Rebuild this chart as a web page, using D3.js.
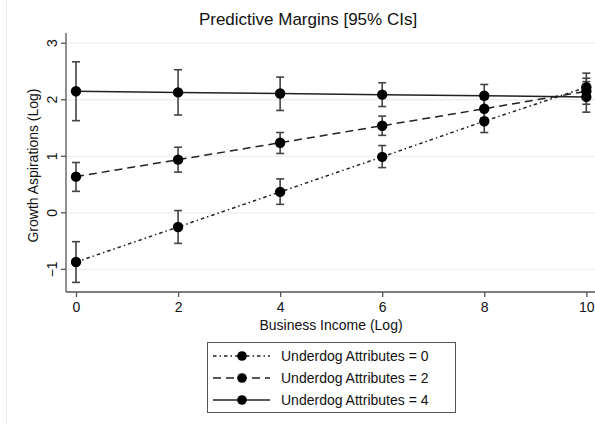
<!DOCTYPE html>
<html>
<head>
<meta charset="utf-8">
<script src="https://d3js.org/d3.v7.min.js"></script>
<style>
  body { margin: 0; background: #fff; }
  text { font-family: "Liberation Sans", Arial, sans-serif; fill: #111; }
</style>
</head>
<body>
<svg width="595" height="424"></svg>
<script>
const incomes = [0, 2, 4, 6, 8, 10];
const yTicks = [-1, 0, 1, 2, 3];
const xTicks = [0, 2, 4, 6, 8, 10];

// margins by underdog attributes level
const attr0 = [-0.87, -0.25, 0.37, 0.99, 1.62, 2.22];
const attr0Lo = [-1.23, -0.54, 0.15, 0.80, 1.42, 2.02];
const attr0Hi = [-0.51, 0.04, 0.60, 1.19, 1.82, 2.47];

const attr2 = [0.64, 0.94, 1.24, 1.54, 1.84, 2.15];
const attr2Lo = [0.38, 0.72, 1.05, 1.37, 1.68, 1.92];
const attr2Hi = [0.89, 1.16, 1.42, 1.71, 2.01, 2.38];

const attr4 = [2.15, 2.13, 2.11, 2.09, 2.07, 2.05];
const attr4Lo = [1.63, 1.73, 1.81, 1.88, 1.85, 1.78];
const attr4Hi = [2.67, 2.53, 2.40, 2.30, 2.27, 2.32];

const seriesNames = ["Underdog Attributes = 0", "Underdog Attributes = 2", "Underdog Attributes = 4"];

const series = [
  { name: seriesNames[0], y: attr0, lo: attr0Lo, hi: attr0Hi, dash: "3.5,3,1.5,3" },
  { name: seriesNames[1], y: attr2, lo: attr2Lo, hi: attr2Hi, dash: "8,5" },
  { name: seriesNames[2], y: attr4, lo: attr4Lo, hi: attr4Hi, dash: null }
];

const svg = d3.select("svg");
const plot = { left: 66, right: 595, top: 33, bottom: 292 };

const x = d3.scaleLinear().domain([-0.196, 10.17]).range([plot.left, plot.right]);
const y = d3.scaleLinear().domain([-1.4, 3.18]).range([plot.bottom, plot.top]);

// faint outer frame edge
svg.append("line")
  .attr("x1", 6.5).attr("x2", 6.5).attr("y1", 0).attr("y2", 424)
  .attr("stroke", "#eceff1").attr("stroke-width", 1);

// grid
svg.append("g").selectAll("line")
  .data(yTicks)
  .enter().append("line")
  .attr("x1", plot.left).attr("x2", plot.right)
  .attr("y1", d => y(d)).attr("y2", d => y(d))
  .attr("stroke", "#eaf1f4").attr("stroke-width", 1.3);

// axes
const yAxis = svg.append("g")
  .attr("transform", `translate(${plot.left},0)`)
  .call(d3.axisLeft(y).tickValues(yTicks).tickSize(5).tickFormat(d3.format("d")));
yAxis.select(".domain").attr("d", `M0,${plot.top}V${plot.bottom}`);
yAxis.selectAll("text")
  .attr("transform", d => `translate(-14,${y(d)}) rotate(-90)`)
  .attr("x", 0).attr("y", 0).attr("dy", "0.35em")
  .attr("text-anchor", "middle")
  .style("font-size", "14px");
yAxis.selectAll(".tick").attr("transform", null);
yAxis.selectAll(".tick line").attr("y1", d => y(d)).attr("y2", d => y(d));

const xAxis = svg.append("g")
  .attr("transform", `translate(0,${plot.bottom})`)
  .call(d3.axisBottom(x).tickValues(xTicks).tickSize(5).tickFormat(d3.format("d")));
xAxis.select(".domain").attr("d", `M${plot.left},0H${plot.right}`);
xAxis.selectAll("text").attr("dy", "0.85em").style("font-size", "14px");

svg.selectAll(".domain, .tick line").attr("stroke", "#555").attr("stroke-width", 1.3);

// axis titles
svg.append("text")
  .attr("transform", `translate(38,${(plot.top + plot.bottom) / 2 + 3}) rotate(-90)`)
  .attr("text-anchor", "middle")
  .style("font-size", "14px")
  .text("Growth Aspirations (Log)");

svg.append("text")
  .attr("x", 331).attr("y", 330)
  .attr("text-anchor", "middle")
  .style("font-size", "14px")
  .text("Business Income (Log)");

svg.append("text")
  .attr("x", 308).attr("y", 25)
  .attr("text-anchor", "middle")
  .style("font-size", "17px")
  .text("Predictive Margins [95% CIs]");

// lines
const line = d3.line().x((d, i) => x(incomes[i])).y(d => y(d));
svg.append("g").selectAll("path")
  .data(series)
  .enter().append("path")
  .attr("d", d => line(d.y))
  .attr("fill", "none")
  .attr("stroke", "#222")
  .attr("stroke-width", 1.5)
  .attr("stroke-dasharray", d => d.dash);

// error bars
series.forEach(s => {
  const g = svg.append("g").attr("stroke", "#444").attr("stroke-width", 1.6);
  incomes.forEach((v, i) => {
    const cx = x(v);
    g.append("line").attr("x1", cx).attr("x2", cx).attr("y1", y(s.lo[i])).attr("y2", y(s.hi[i]));
    g.append("line").attr("x1", cx - 4).attr("x2", cx + 4).attr("y1", y(s.lo[i])).attr("y2", y(s.lo[i]));
    g.append("line").attr("x1", cx - 4).attr("x2", cx + 4).attr("y1", y(s.hi[i])).attr("y2", y(s.hi[i]));
  });
});

// markers
series.forEach(s => {
  svg.append("g").selectAll("circle")
    .data(s.y)
    .enter().append("circle")
    .attr("cx", (d, i) => x(incomes[i]))
    .attr("cy", d => y(d))
    .attr("r", 5.2)
    .attr("fill", "#000");
});

// legend
const legend = svg.append("g").attr("transform", "translate(207,342)");
legend.append("rect")
  .attr("x", 0.5).attr("y", 0.5).attr("width", 248).attr("height", 70)
  .attr("fill", "#fff").attr("stroke", "#555").attr("stroke-width", 1);

const items = legend.selectAll("g.item")
  .data(series)
  .enter().append("g")
  .attr("class", "item")
  .attr("transform", (d, i) => `translate(0,${14 + i * 22})`);
items.append("line")
  .attr("x1", 6).attr("x2", 63).attr("y1", 0).attr("y2", 0)
  .attr("stroke", "#222").attr("stroke-width", 1.5)
  .attr("stroke-dasharray", d => d.dash);
items.append("circle").attr("cx", 35).attr("cy", 0).attr("r", 4.8).attr("fill", "#000");
items.append("text")
  .attr("x", 74).attr("y", 0).attr("dy", "0.35em")
  .style("font-size", "14px")
  .text(d => d.name);
</script>
</body>
</html>
